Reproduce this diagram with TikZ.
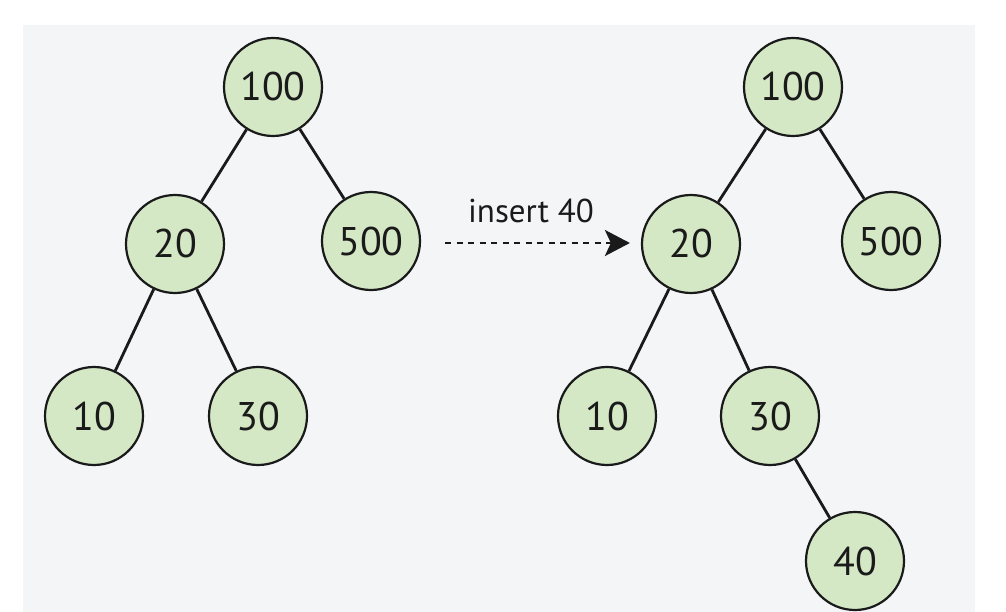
\documentclass[tikz,border=0pt]{standalone}
\usepackage{fontspec}
\setmainfont{PT Sans}
\usetikzlibrary{arrows.meta}
\definecolor{bggray}{RGB}{243,245,247}
\definecolor{keygreen}{RGB}{212,232,198}
\definecolor{ink}{RGB}{26,26,26}
\tikzset{
key/.style = {circle, draw=ink, fill=keygreen, line width=2.2pt,
              minimum size=98pt, inner sep=0pt, text=ink,
              font=\fontsize{40}{40}\selectfont},
link/.style = {draw=ink, line width=2.8pt}
}

\begin{document}
\begin{tikzpicture}[x=1pt,y=-1pt]
        \useasboundingbox (0,0) rectangle (1006,612);
        \fill[bggray] (23,25) rectangle (975,612);

        % tree before
        \node[key] (l100) at (273,87) {100};
        \node[key] (l20) at (175,244) {20};
        \node[key] (l500) at (371,241) {500};
        \node[key] (l10) at (94,416) {10};
        \node[key] (l30) at (258,416) {30};

        % tree after
        \node[key] (r100) at (793,87) {100};
        \node[key] (r20) at (691,244) {20};
        \node[key] (r500) at (891,241) {500};
        \node[key] (r10) at (607,416) {10};
        \node[key] (r30) at (770,416) {30};
        \node[key] (r40) at (855,561) {40};

        \path[link]
        (l100) edge (l20)
        (l100) edge (l500)
        (l20) edge (l10)
        (l20) edge (l30)
        (r100) edge (r20)
        (r100) edge (r500)
        (r20) edge (r10)
        (r20) edge (r30)
        (r30) edge (r40);

        \node[text=ink, font=\fontsize{33}{33}\selectfont] (ins) at (531,211) {insert 40};
        \draw[ink, line width=2.8pt, dash pattern=on 6pt off 5.5pt,
              -{Stealth[length=25pt,width=26pt,inset=6pt]},
              shorten <=24pt, shorten >=11pt] (l500.east |- 0,243) -- (r20.west |- 0,243);
\end{tikzpicture}
\end{document}
